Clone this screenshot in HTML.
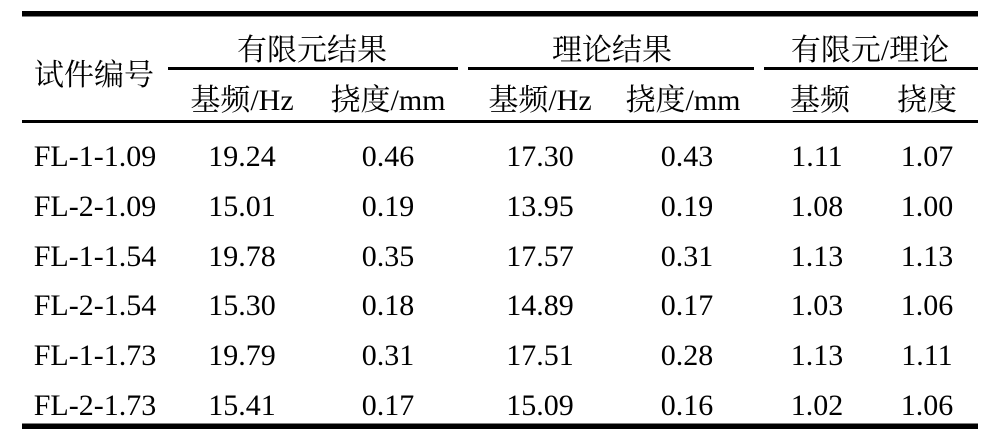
<!DOCTYPE html>
<html>
<head>
<meta charset="utf-8">
<style>
  html, body { margin: 0; padding: 0; background: #fff; }
  body { width: 992px; height: 435px; overflow: hidden; }
  svg { display: block; }
  .t { font-family: "Liberation Serif", "Noto Serif CJK SC", serif; font-size: 30px; fill: #000; }
</style>
</head>
<body>
<svg width="992" height="435" viewBox="0 0 992 435" xmlns="http://www.w3.org/2000/svg">
  <rect x="0" y="0" width="992" height="435" fill="#fff"/>
  <!-- rules -->
  <rect x="22" y="11" width="956" height="5.5" fill="#000"/>
  <rect x="168" y="67" width="290" height="3" fill="#000"/>
  <rect x="468" y="67" width="286" height="3" fill="#000"/>
  <rect x="764" y="67" width="214" height="3" fill="#000"/>
  <rect x="22" y="120" width="956" height="3" fill="#000"/>
  <rect x="22" y="423.5" width="956" height="5.5" fill="#000"/>

  <g class="t" text-anchor="middle">
    <!-- header -->
    <text x="94" y="85">试件编号</text>
    <text x="312" y="60">有限元结果</text>
    <text x="612" y="60">理论结果</text>
    <text x="870" y="60">有限元/理论</text>

    <text x="242" y="110">基频/Hz</text>
    <text x="388" y="110">挠度/mm</text>
    <text x="540" y="110">基频/Hz</text>
    <text x="683" y="110">挠度/mm</text>
    <text x="820" y="110">基频</text>
    <text x="927" y="110">挠度</text>

    <!-- rows -->
    <text x="95" y="166">FL-1-1.09</text>
    <text x="242" y="166">19.24</text>
    <text x="388" y="166">0.46</text>
    <text x="540" y="166">17.30</text>
    <text x="687" y="166">0.43</text>
    <text x="817" y="166">1.11</text>
    <text x="927" y="166">1.07</text>

    <text x="95" y="216">FL-2-1.09</text>
    <text x="242" y="216">15.01</text>
    <text x="388" y="216">0.19</text>
    <text x="540" y="216">13.95</text>
    <text x="687" y="216">0.19</text>
    <text x="817" y="216">1.08</text>
    <text x="927" y="216">1.00</text>

    <text x="95" y="266">FL-1-1.54</text>
    <text x="242" y="266">19.78</text>
    <text x="388" y="266">0.35</text>
    <text x="540" y="266">17.57</text>
    <text x="687" y="266">0.31</text>
    <text x="817" y="266">1.13</text>
    <text x="927" y="266">1.13</text>

    <text x="95" y="315">FL-2-1.54</text>
    <text x="242" y="315">15.30</text>
    <text x="388" y="315">0.18</text>
    <text x="540" y="315">14.89</text>
    <text x="687" y="315">0.17</text>
    <text x="817" y="315">1.03</text>
    <text x="927" y="315">1.06</text>

    <text x="95" y="365">FL-1-1.73</text>
    <text x="242" y="365">19.79</text>
    <text x="388" y="365">0.31</text>
    <text x="540" y="365">17.51</text>
    <text x="687" y="365">0.28</text>
    <text x="817" y="365">1.13</text>
    <text x="927" y="365">1.11</text>

    <text x="95" y="415">FL-2-1.73</text>
    <text x="242" y="415">15.41</text>
    <text x="388" y="415">0.17</text>
    <text x="540" y="415">15.09</text>
    <text x="687" y="415">0.16</text>
    <text x="817" y="415">1.02</text>
    <text x="927" y="415">1.06</text>
  </g>
</svg>
</body>
</html>
